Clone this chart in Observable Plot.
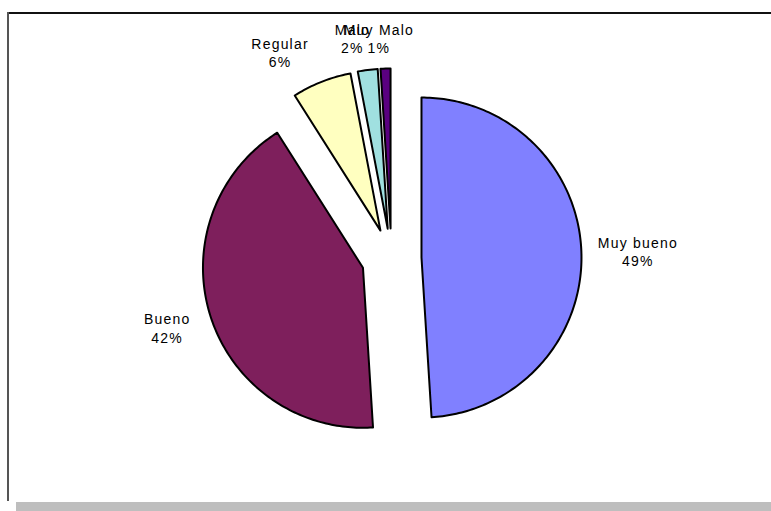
<!DOCTYPE html>
<html>
<head>
<meta charset="utf-8">
<script src="https://cdn.jsdelivr.net/npm/d3@7"></script>
<script src="https://cdn.jsdelivr.net/npm/@observablehq/plot@0.6"></script>
<style>
  html, body { margin: 0; padding: 0; background: #fff; }
  #wrap { position: relative; width: 771px; height: 511px; overflow: hidden; }
  #wrap svg { position: absolute; left: 0; top: 0; }
  .deco { position: absolute; }
</style>
</head>
<body>
<div id="wrap">
  <div class="deco" style="left:7px;top:12px;width:764px;height:2px;background:#111;"></div>
  <div class="deco" style="left:7px;top:12px;width:2px;height:489px;background:#555;"></div>
  <div class="deco" style="left:16px;top:502px;width:755px;height:9px;background:#bebebe;"></div>
</div>
<script>
// ---- data ----
const categories = ["Muy bueno", "Bueno", "Regular", "Malo", "Muy Malo"];
const values = [49, 42, 6, 2, 1];
const percentLabels = ["49%", "42%", "6%", "2%", "1%"];
const colors = ["#8080ff", "#7e1f5c", "#ffffc0", "#a0e0e0", "#5a0080"];

// ---- layout ----
const W = 771, H = 511;
const cx = 391, cy = 258, R = 160;   // pie center / radius in pixels
const explode = 30 / R;             // explosion distance in radius units
const labelGap = 16 / R;
const labelNudge = {"Bueno": [-7, 0], "Regular": [-24, 2], "Malo": [-11, 2], "Muy Malo": [-5, 4]};

const table = categories.map((c, i) => ({cat: c, value: values[i], pct: percentLabels[i], color: colors[i]}));
const arcs = d3.pie().sort(null).value(d => d.value)(table);

const slicePts = [];
const labels = [];
for (const a of arcs) {
  const mid = (a.startAngle + a.endAngle) / 2;
  const vx = explode * Math.sin(mid), vy = explode * Math.cos(mid);
  slicePts.push({cat: a.data.cat, color: a.data.color, x: vx, y: vy});
  const n = Math.max(2, Math.ceil((a.endAngle - a.startAngle) / (Math.PI / 180)));
  for (let k = 0; k <= n; k++) {
    const t = a.startAngle + (a.endAngle - a.startAngle) * k / n;
    slicePts.push({cat: a.data.cat, color: a.data.color, x: vx + Math.sin(t), y: vy + Math.cos(t)});
  }
  const name = a.data.cat;
  const halfW = name.length * 4.5 / R, halfH = 18 / R;
  const nd = labelNudge[name] || [0, 0];
  labels.push({
    text: name + "\n" + a.data.pct,
    x: vx + Math.sin(mid) * (1 + labelGap + halfW) + nd[0] / R,
    y: vy + Math.cos(mid) * (1 + labelGap + halfH) - nd[1] / R
  });
}

const chart = Plot.plot({
  width: W, height: H,
  marginTop: 0, marginRight: 0, marginBottom: 0, marginLeft: 0,
  x: {domain: [-cx / R, (W - cx) / R], range: [0, W], axis: null},
  y: {domain: [-(H - cy) / R, cy / R], range: [H, 0], axis: null},
  style: {background: "transparent", fontFamily: "'Liberation Sans', Arial, sans-serif", fontSize: "14px", letterSpacing: "1.2px", color: "#000"},
  marks: [
    Plot.line(slicePts, {x: "x", y: "y", z: "cat", fill: "color", stroke: "#000", strokeWidth: 2, strokeLinejoin: "round", curve: "linear-closed"}),
    Plot.text(labels, {x: "x", y: "y", text: "text", fontSize: 14, lineHeight: 1.29, lineAnchor: "middle", textAnchor: "middle", fill: "#000"})
  ]
});
document.getElementById("wrap").appendChild(chart);
</script>
</body>
</html>
